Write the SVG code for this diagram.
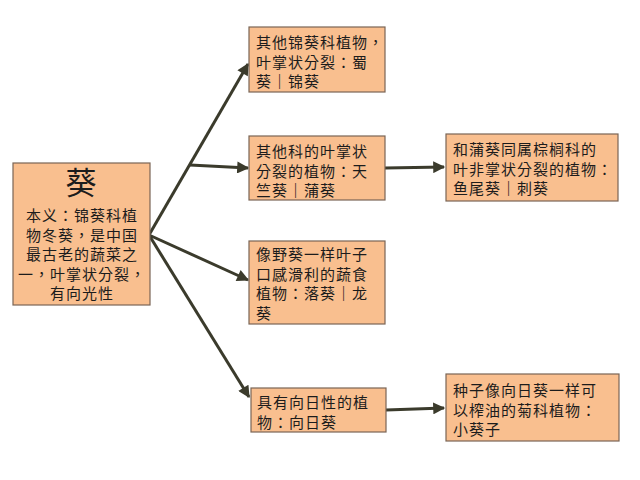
<svg xmlns="http://www.w3.org/2000/svg" width="640" height="480" viewBox="0 0 640 480">
<defs>
<marker id="ah" viewBox="0 0 10 10" refX="9" refY="5" markerWidth="4.5" markerHeight="4" markerUnits="strokeWidth" orient="auto">
<path d="M0,0 L10,5 L0,10 Z" fill="#3b3b2c"/>
</marker>
<style>
.box{fill:#f9bf8f;stroke:#7a6555;stroke-width:1.2}
.t{font-family:"Noto Sans CJK TC","Noto Sans CJK SC","Noto Sans",sans-serif;font-size:15px;letter-spacing:1px;fill:#1c1c1c}
.big{font-family:"Noto Sans CJK SC","Noto Sans",sans-serif;font-size:31px;fill:#1c1c1c}
.c{text-anchor:middle}
.b{font-weight:bold}
.ln{stroke:#3b3b2c;stroke-width:3;fill:none}
</style>
</defs>
<rect width="640" height="480" fill="#ffffff"/>
<g id="connectors">
<path class="ln" d="M149,235 L248,64" marker-end="url(#ah)"/>
<path class="ln" d="M190,165 L248,168" marker-end="url(#ah)"/>
<path class="ln" d="M149,235 L248,280" marker-end="url(#ah)"/>
<path class="ln" d="M149,235 L249,397" marker-end="url(#ah)"/>
<path class="ln" d="M385,168 L444,167" marker-end="url(#ah)"/>
<path class="ln" d="M386,410 L444,408" marker-end="url(#ah)"/>
</g>
<g id="root">
<rect class="box" x="13" y="163" width="137" height="142"/>
<text class="big c" x="81" y="194">葵</text>
<text class="t c" x="82" y="221">本义：锦葵科植</text>
<text class="t c" x="82" y="240.5">物冬葵，是中国</text>
<text class="t c" x="82" y="260">最古老的蔬菜之</text>
<text class="t c" x="82" y="279.5">一，叶掌状分裂，</text>
<text class="t c" x="82" y="299">有向光性</text>
</g>
<g id="n1">
<rect class="box" x="249" y="27" width="136" height="65"/>
<text class="t" x="256" y="48">其他锦葵科植物，</text>
<text class="t" x="256" y="67.5">叶掌状分裂：蜀</text>
<text class="t" x="256" y="87">葵<tspan class="b">｜</tspan>锦葵</text>
</g>
<g id="n2">
<rect class="box" x="249" y="136" width="136" height="64"/>
<text class="t" x="256" y="157">其他科的叶掌状</text>
<text class="t" x="256" y="176.5">分裂的植物：天</text>
<text class="t" x="256" y="196">竺葵<tspan class="b">｜</tspan>蒲葵</text>
</g>
<g id="n3">
<rect class="box" x="249" y="241" width="136" height="83"/>
<text class="t" x="256" y="260">像野葵一样叶子</text>
<text class="t" x="256" y="279.5">口感滑利的蔬食</text>
<text class="t" x="256" y="299">植物：落葵<tspan class="b">｜</tspan>龙</text>
<text class="t" x="256" y="318.5">葵</text>
</g>
<g id="n4">
<rect class="box" x="251" y="388" width="135" height="44"/>
<text class="t" x="257" y="408">具有向日性的植</text>
<text class="t" x="257" y="427.5">物：向日葵</text>
</g>
<g id="n5">
<rect class="box" x="446" y="134" width="172" height="67"/>
<text class="t" x="453" y="155">和蒲葵同属棕榈科的</text>
<text class="t" x="453" y="174.5">叶非掌状分裂的植物：</text>
<text class="t" x="453" y="194">鱼尾葵<tspan class="b">｜</tspan>刺葵</text>
</g>
<g id="n6">
<rect class="box" x="446" y="374" width="173" height="67"/>
<text class="t" x="453" y="396">种子像向日葵一样可</text>
<text class="t" x="453" y="415.5">以榨油的菊科植物：</text>
<text class="t" x="453" y="435">小葵子</text>
</g>
</svg>
